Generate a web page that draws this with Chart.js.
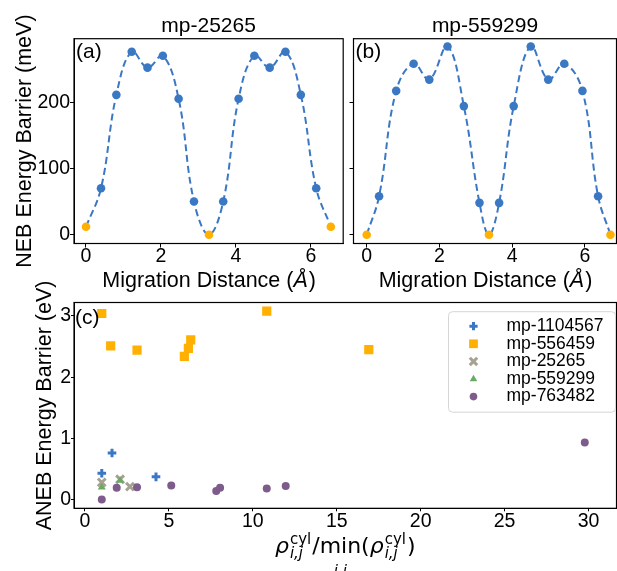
<!DOCTYPE html>
<html lang="en">
<head>
<meta charset="UTF-8">
<title>NEB / ANEB energy barriers</title>
<script src="https://cdn.jsdelivr.net/npm/chart.js"></script>
<style>
  html, body { margin: 0; padding: 0; background: #fff; }
  #wrap { position: relative; width: 617px; height: 571px; overflow: hidden; }
  canvas { position: absolute; }
</style>
</head>
<body>
<div id="wrap">
  <canvas id="chartA" style="left:0;top:0" width="345" height="300"></canvas>
  <canvas id="chartB" style="left:345px;top:0" width="272" height="300"></canvas>
  <canvas id="chartC" style="left:0;top:270px" width="617" height="301"></canvas>
</div>
<script>
// (a) mp-25265 : migration distance (Å) / energy (meV)
const distA = [0, 0.40, 0.81, 1.22, 1.64, 2.05, 2.47, 2.88, 3.28, 3.66, 4.07, 4.49, 4.90, 5.32, 5.73, 6.14, 6.53];
const energyA = [12, 70, 211, 276, 252, 270, 205, 50, 0, 50, 205, 270, 252, 276, 211, 70, 12];

// (b) mp-559299
const distB = [0, 0.34, 0.81, 1.29, 1.72, 2.22, 2.67, 3.10, 3.36, 3.64, 4.04, 4.51, 4.99, 5.43, 5.93, 6.36, 6.70];
const energyB = [0, 58, 217, 258, 234, 284, 194, 48, 0, 48, 194, 284, 234, 258, 217, 58, 0];

// (c) rho ratio / ANEB barrier (eV)
const materials = ['mp-1104567', 'mp-556459', 'mp-25265', 'mp-559299', 'mp-763482'];
const ratio1104567 = [1.0, 1.61, 4.23];
const barrier1104567 = [0.43, 0.76, 0.37];
const ratio556459 = [1.0, 1.53, 3.10, 5.92, 6.16, 6.30, 10.83, 16.91];
const barrier556459 = [3.04, 2.51, 2.44, 2.34, 2.47, 2.61, 3.08, 2.45];
const ratio25265 = [1.0, 2.09, 2.68];
const barrier25265 = [0.28, 0.33, 0.21];
const ratio559299 = [1.0, 2.09];
const barrier559299 = [0.20, 0.31];
const ratio763482 = [1.0, 1.89, 3.10, 5.14, 7.82, 8.05, 10.83, 11.96, 29.78];
const barrier763482 = [0.0, 0.19, 0.20, 0.23, 0.14, 0.19, 0.18, 0.22, 0.93];

// tick labels
const distTicks = [0, 2, 4, 6];
const mevTicks = [0, 100, 200];
const ratioTicks = [0, 5, 10, 15, 20, 25, 30];
const evTicks = [0, 1, 2, 3];

const FONT = '"Liberation Sans", Arial, Helvetica, sans-serif';
Chart.defaults.font.family = FONT;
Chart.defaults.color = '#000';

const BLUE = '#3b78c4';
const ORANGE = '#ffb000';
const GREY = '#a6a192';
const GREEN = '#6aaa64';
const PURPLE = '#7d5b8b';

// black box around plot area + panel letter
const framePlugin = {
  id: 'frame',
  afterDraw(chart, args, opts) {
    const {ctx, chartArea: a} = chart;
    ctx.save();
    ctx.strokeStyle = '#000';
    ctx.lineWidth = 1.2;
    ctx.strokeRect(a.left, a.top, a.right - a.left, a.bottom - a.top);
    if (opts.label) {
      ctx.fillStyle = '#000';
      ctx.font = '21px ' + FONT;
      ctx.textAlign = 'left';
      ctx.textBaseline = 'middle';
      ctx.fillText(opts.label, a.left + opts.dx, a.top + opts.dy);
    }
    ctx.restore();
  }
};

// "Migration Distance (Å)" with the Å slanted like the original
const distTitle = {
  id: 'distTitle',
  afterDraw(chart) {
    const {ctx, chartArea: a} = chart;
    const pieces = [['Migration Distance (', '21.5px ' + FONT], ['Å', 'italic 21.5px ' + FONT], [')', '21.5px ' + FONT]];
    ctx.save();
    let total = 0;
    pieces.forEach(p => { ctx.font = p[1]; p.w = ctx.measureText(p[0]).width; total += p.w; });
    let x = (a.left + a.right) / 2 - total / 2;
    ctx.fillStyle = '#000';
    ctx.textAlign = 'left';
    ctx.textBaseline = 'alphabetic';
    pieces.forEach(p => { ctx.font = p[1]; ctx.fillText(p[0], x, 286.7); x += p.w + (p[0] === 'Å' ? 1 : 0); });
    ctx.restore();
  }
};

const tickGrid = len => ({ drawOnChartArea: false, drawTicks: true, tickLength: len, color: '#000', lineWidth: 1 });
const border = { display: true, color: '#000', width: 1 };
const fixedTicks = vals => s => { s.ticks = vals.map(v => ({ value: v })); };

function nebChart(id, dist, energy, o) {
  const last = dist.length - 1, mid = last / 2;
  return new Chart(document.getElementById(id), {
    type: 'line',
    data: {
      datasets: [{
        data: dist.map((x, i) => ({ x: x, y: energy[i] })),
        borderColor: BLUE,
        borderWidth: 2,
        borderDash: [7, 4],
        tension: 0.4,
        fill: false,
        pointRadius: 4.3,
        pointBorderWidth: 0,
        pointBackgroundColor: c => (c.dataIndex === 0 || c.dataIndex === last || c.dataIndex === mid) ? ORANGE : BLUE
      }]
    },
    options: {
      responsive: false,
      animation: false,
      layout: { autoPadding: false, padding: { left: 0, right: o.padRight, top: 0, bottom: 0 } },
      plugins: {
        legend: { display: false },
        tooltip: { enabled: false },
        title: { display: true, fullSize: false, text: o.title, color: '#000', font: { size: 21, weight: 'normal' }, padding: { top: 13.5, bottom: 0 } },
        frame: { label: o.label, dx: 2, dy: 13.6 }
      },
      scales: {
        x: {
          type: 'linear', min: o.xMin, max: o.xMax,
          afterBuildTicks: fixedTicks(distTicks),
          ticks: { maxRotation: 0, padding: -0.75, font: { size: 19.5, lineHeight: 1 } },
          grid: tickGrid(4), border: border,
          afterFit: s => { s.height = 56.5; }
        },
        y: {
          type: 'linear', min: -13.3, max: 295.7,
          afterBuildTicks: fixedTicks(mevTicks),
          ticks: { display: o.yLabels, padding: 0, font: { size: 19.5 } },
          grid: tickGrid(4), border: border,
          title: { display: o.yLabels, text: 'NEB Energy Barrier (meV)', font: { size: 21.5 }, padding: { top: 12.5, bottom: 0 } },
          afterFit: s => { s.width = o.yWidth; }
        }
      }
    },
    plugins: [framePlugin, distTitle]
  });
}

nebChart('chartA', distA, energyA, { title: 'mp-25265', label: '(a)', xMin: -0.32, xMax: 6.86, yLabels: true, yWidth: 74, padRight: 1.8 });
nebChart('chartB', distB, energyB, { title: 'mp-559299', label: '(b)', xMin: -0.363, xMax: 6.866, yLabels: false, yWidth: 8.5, padRight: 0.5 });

// x-axis title of (c): rho^cyl_{i,j} / min_{i,j}(rho^cyl_{i,j})
const mathTitle = {
  id: 'mathTitle',
  afterDraw(chart) {
    const {ctx, chartArea: a} = chart;
    const M = '22px "DejaVu Sans", sans-serif';
    const MI = 'italic 22px "DejaVu Sans", sans-serif';
    const S = '15px "DejaVu Sans", sans-serif';
    const SI = 'italic 15px "DejaVu Sans", sans-serif';
    const base = a.bottom + 44.7;
    const parts = [
      { t: 'ρ', f: MI, gap: 1 },
      { sup: 'cyl', sub: 'i,j' },
      { t: '/', f: M },
      { t: 'min', f: M, under: 'i,j' },
      { t: '(', f: M },
      { t: 'ρ', f: MI, gap: 1 },
      { sup: 'cyl', sub: 'i,j' },
      { t: ')', f: M }
    ];
    ctx.save();
    parts.forEach(p => {
      if (p.t) {
        ctx.font = p.f;
        p.w = ctx.measureText(p.t).width + (p.gap || 0);
      } else {
        ctx.font = S;
        const w1 = ctx.measureText(p.sup).width;
        ctx.font = SI;
        const w2 = ctx.measureText(p.sub).width;
        p.w = Math.max(w1, w2) + 1;
      }
    });
    const total = parts.reduce((s, p) => s + p.w, 0);
    let x = (a.left + a.right) / 2 - total / 2;
    ctx.fillStyle = '#000';
    ctx.textBaseline = 'alphabetic';
    ctx.textAlign = 'left';
    parts.forEach(p => {
      if (p.t) {
        ctx.font = p.f;
        ctx.fillText(p.t, x, base);
        if (p.under) {
          ctx.font = SI;
          ctx.textAlign = 'center';
          ctx.fillText(p.under, x + p.w / 2, base + 23);
          ctx.textAlign = 'left';
        }
      } else {
        ctx.font = S;
        ctx.fillText(p.sup, x, base - 9);
        ctx.font = SI;
        ctx.fillText(p.sub, x, base + 5);
      }
      x += p.w;
    });
    ctx.restore();
  }
};

// framed legend in the top right corner of (c)
const boxLegend = {
  id: 'boxLegend',
  afterDraw(chart) {
    const {ctx, chartArea: a} = chart;
    const w = 167, h = 100.5, r = 4;
    const left = a.right - w - 1, top = a.top + 9.2;
    ctx.save();
    ctx.beginPath();
    ctx.moveTo(left + r, top);
    ctx.arcTo(left + w, top, left + w, top + h, r);
    ctx.arcTo(left + w, top + h, left, top + h, r);
    ctx.arcTo(left, top + h, left, top, r);
    ctx.arcTo(left, top, left + w, top, r);
    ctx.closePath();
    ctx.fillStyle = 'rgba(255,255,255,0.8)';
    ctx.fill();
    ctx.strokeStyle = '#d6d6d6';
    ctx.lineWidth = 1;
    ctx.stroke();
    chart.data.datasets.forEach((ds, i) => {
      const y = top + 14.5 + i * 17.6;
      const mx = left + 25;
      ctx.fillStyle = ds.pointBackgroundColor;
      ctx.strokeStyle = ds.pointBorderColor;
      ctx.lineWidth = ds.pointBorderWidth;
      Chart.helpers.drawPoint(ctx, { pointStyle: ds.pointStyle, radius: ds.pointRadius * 0.95, borderWidth: ds.pointBorderWidth, rotation: 0 }, mx, y);
      ctx.fillStyle = '#000';
      ctx.font = '17.5px ' + FONT;
      ctx.textAlign = 'left';
      ctx.textBaseline = 'middle';
      ctx.fillText(ds.label, left + 58, y);
    });
    ctx.restore();
  }
};

const pts = (xs, ys) => xs.map((x, i) => ({ x: x, y: ys[i] }));
const styles = [
  { pointStyle: 'cross', pointRadius: 4.3, pointBackgroundColor: BLUE, pointBorderColor: BLUE, pointBorderWidth: 3 },
  { pointStyle: 'rect', pointRadius: 6.5, pointBackgroundColor: ORANGE, pointBorderColor: ORANGE, pointBorderWidth: 0 },
  { pointStyle: 'crossRot', pointRadius: 5.5, pointBackgroundColor: GREY, pointBorderColor: GREY, pointBorderWidth: 3 },
  { pointStyle: 'triangle', pointRadius: 4.6, pointBackgroundColor: GREEN, pointBorderColor: GREEN, pointBorderWidth: 0 },
  { pointStyle: 'circle', pointRadius: 4, pointBackgroundColor: PURPLE, pointBorderColor: PURPLE, pointBorderWidth: 0 }
];
const seriesData = [
  pts(ratio1104567, barrier1104567),
  pts(ratio556459, barrier556459),
  pts(ratio25265, barrier25265),
  pts(ratio559299, barrier559299),
  pts(ratio763482, barrier763482)
];

new Chart(document.getElementById('chartC'), {
  type: 'scatter',
  data: {
    datasets: materials.map((m, i) => Object.assign({
      label: m,
      data: seriesData[i],
      order: materials.length - i,
      pointHoverRadius: styles[i].pointRadius
    }, styles[i]))
  },
  options: {
    responsive: false,
    animation: false,
    layout: { autoPadding: false, padding: { left: 0, right: 0.5, top: 32.5, bottom: 0 } },
    plugins: {
      legend: { display: false },
      tooltip: { enabled: false },
      frame: { label: '(c)', dx: 1, dy: 15.8 }
    },
    scales: {
      x: {
        type: 'linear', min: -0.655, max: 31.67,
        afterBuildTicks: fixedTicks(ratioTicks),
        ticks: { maxRotation: 0, padding: 0.5, font: { size: 19.5, lineHeight: 1 } },
        grid: tickGrid(3), border: border,
        afterFit: s => { s.height = 62.7; }
      },
      y: {
        type: 'linear', min: -0.144, max: 3.22,
        afterBuildTicks: fixedTicks(evTicks),
        ticks: { padding: 0, font: { size: 19.5 } },
        grid: tickGrid(3), border: border,
        title: { display: true, text: 'ANEB Energy Barrier (eV)', font: { size: 21.5 }, padding: { top: 32.5, bottom: 0 } },
        afterFit: s => { s.width = 74; }
      }
    }
  },
  plugins: [framePlugin, mathTitle, boxLegend]
});
</script>
</body>
</html>
